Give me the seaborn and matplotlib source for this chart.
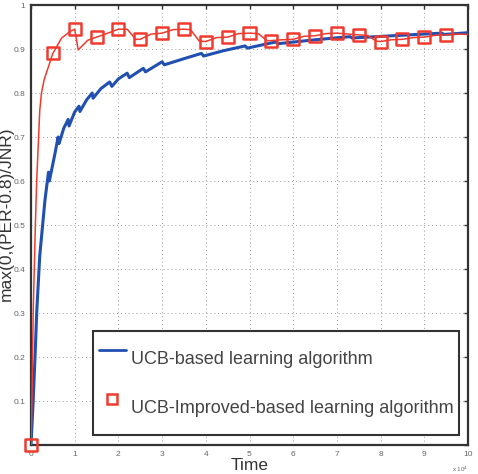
import matplotlib
matplotlib.use("Agg")
import matplotlib.pyplot as plt
from matplotlib.lines import Line2D
import pandas as pd
import seaborn as sns

# UCB-based learning algorithm (blue line), time in units of 1e4
blue_x = [0, 0.05, 0.1, 0.13, 0.2, 0.32, 0.4, 0.42, 0.55, 0.62, 0.64, 0.75, 0.85, 0.87,
          1.0, 1.1, 1.12, 1.27, 1.4, 1.42, 1.6, 1.8, 1.85, 2.0, 2.2, 2.25, 2.57, 2.62,
          3.0, 3.05, 3.5, 3.9, 3.95, 4.4, 4.9, 4.95, 5.6, 5.65, 6.5, 7.3, 7.35, 8.06,
          9.4, 9.45, 10]
blue_y = [0, 0.1, 0.22, 0.3, 0.43, 0.557, 0.62, 0.60, 0.663, 0.70, 0.685, 0.72, 0.74, 0.725,
          0.757, 0.77, 0.758, 0.784, 0.80, 0.788, 0.81, 0.825, 0.815, 0.832, 0.845, 0.835, 0.856, 0.848,
          0.871, 0.864, 0.878, 0.89, 0.884, 0.896, 0.907, 0.902, 0.916, 0.912, 0.921, 0.928, 0.925, 0.929,
          0.936, 0.933, 0.937]

# UCB-Improved-based learning algorithm (red line)
red_x = [0, 0.02, 0.05, 0.1, 0.13, 0.2, 0.24, 0.3, 0.4, 0.5, 0.7, 0.9, 1.0, 1.08, 1.3, 1.5,
         1.65, 2.0, 2.2, 2.4, 2.5, 2.75, 3.0, 3.25, 3.5, 3.65, 3.85, 4.0, 4.25, 4.5, 4.75,
         5.0, 5.2, 5.4, 5.5, 5.75, 6.0, 6.25, 6.5, 6.75, 7.0, 7.25, 7.5, 7.7, 7.9, 8.0,
         8.25, 8.5, 8.75, 9.0, 9.25, 9.5, 9.75, 10.0]
red_y = [0, 0.1, 0.3, 0.5, 0.6, 0.76, 0.8, 0.83, 0.86, 0.89, 0.925, 0.94, 0.945, 0.898, 0.92, 0.927,
         0.932, 0.945, 0.945, 0.922, 0.922, 0.934, 0.936, 0.944, 0.945, 0.944, 0.918, 0.917, 0.926, 0.927, 0.935,
         0.936, 0.935, 0.919, 0.919, 0.921, 0.922, 0.929, 0.930, 0.935, 0.936, 0.934, 0.932, 0.931, 0.918, 0.917,
         0.921, 0.922, 0.926, 0.927, 0.931, 0.932, 0.934, 0.933]

# square markers every 5000 steps
marker_x = [0, 0.5, 1, 1.5, 2, 2.5, 3, 3.5, 4, 4.5, 5, 5.5, 6, 6.5, 7, 7.5, 8, 8.5, 9, 9.5]
marker_y = [0, 0.89, 0.945, 0.927, 0.945, 0.922, 0.936, 0.945, 0.917, 0.927, 0.936, 0.919,
            0.922, 0.930, 0.936, 0.932, 0.917, 0.922, 0.927, 0.932]

x_ticks = list(range(0, 11))
y_ticks = [0, 0.1, 0.2, 0.3, 0.4, 0.5, 0.6, 0.7, 0.8, 0.9, 1]
y_tick_labels = ["", "0.1", "0.2", "0.3", "0.4", "0.5", "0.6", "0.7", "0.8", "0.9", "1"]

BLUE = "#2150b0"
RED = "#f03a2e"


def main():
    sns.set_style("white")
    plt.rcParams["font.family"] = ["Liberation Sans", "DejaVu Sans"]

    blue = pd.DataFrame({"x": blue_x, "y": blue_y})
    red = pd.DataFrame({"x": red_x, "y": red_y})
    marks = pd.DataFrame({"x": marker_x, "y": marker_y})

    fig = plt.figure(figsize=(4.78, 4.74), dpi=100)
    ax = fig.add_axes([31 / 478, 29 / 474, 437 / 478, 440 / 474])

    sns.lineplot(data=blue, x="x", y="y", color=BLUE, linewidth=2.2, ax=ax, zorder=3)
    sns.lineplot(data=red, x="x", y="y", color=RED, linewidth=1.1, ax=ax, zorder=4)
    sns.scatterplot(data=marks, x="x", y="y", marker="s", s=75, facecolor="none",
                    edgecolor=RED, linewidth=1.8, ax=ax, zorder=5, clip_on=False)

    ax.set_xlim(0, 10)
    ax.set_ylim(0, 1)
    ax.set_xticks(x_ticks)
    ax.set_xticklabels([str(t) for t in x_ticks])
    ax.set_yticks(y_ticks)
    ax.set_yticklabels(y_tick_labels)
    ax.tick_params(direction="in", length=3, width=1, labelsize=6, colors="#333333",
                   labelcolor="#666666", top=True, right=True, pad=4)
    ax.grid(True, linestyle=(0, (1, 3)), color="#999999", linewidth=0.7)
    for sp in ax.spines.values():
        sp.set_linewidth(1.6)
        sp.set_color("#333333")

    ax.set_xlabel("Time", fontsize=12.5, color="#333333")
    ax.xaxis.set_label_coords(0.5, -0.03)
    ax.set_ylabel("max(0,(PER-0.8)/JNR)", fontsize=12.5, color="#333333")
    ax.yaxis.set_label_coords(-0.039, 0.525)
    ax.text(1.0, -0.045, r"x 10$^{4}$", transform=ax.transAxes, fontsize=4.5,
            color="#666666", ha="right", va="top")

    handles = [
        Line2D([], [], color=BLUE, linewidth=2),
        Line2D([], [], color=RED, linestyle="none", marker="s", markersize=7,
               markerfacecolor="none", markeredgewidth=1.8),
    ]
    leg = ax.legend(handles, ["UCB-based learning algorithm",
                              "UCB-Improved-based learning algorithm"],
                    loc="lower left", bbox_to_anchor=(0.142, 0.023), fontsize=13,
                    handleheight=3.3, labelspacing=0.34, borderpad=0.31,
                    handlelength=1.5, handletextpad=0.28,
                    borderaxespad=0, fancybox=False, framealpha=1, edgecolor="#333333")
    leg.get_frame().set_linewidth(1.5)
    for t in leg.get_texts():
        t.set_color("#444444")

    fig.savefig("out.png", dpi=100)
    plt.close(fig)


if __name__ == "__main__":
    main()
